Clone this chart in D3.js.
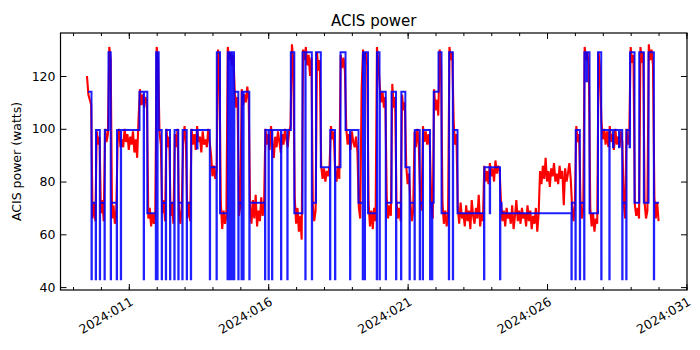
<!DOCTYPE html>
<html><head><meta charset="utf-8">
<script src="https://cdn.jsdelivr.net/npm/d3@7"></script>
<style>body{margin:0;background:#fff}svg{display:block}text{font-family:"DejaVu Sans",sans-serif;fill:#000}</style>
</head><body><svg id="c" width="700" height="350"></svg>
<script>
// ---- data ----
const titleText = "ACIS power";
const yLabelText = "ACIS power (watts)";
const majorTicks = [11, 16, 21, 26, 31];
const tickLabels = ["2024:011", "2024:016", "2024:021", "2024:026", "2024:031"];
const minorTicks = [9,10,11,12,13,14,15,16,17,18,19,20,21,22,23,24,25,26,27,28,29,30,31];
const yTicks = [40, 60, 80, 100, 120];

// measured ACIS power (red), sampled every 0.05 day from DOY 9.50
const measuredStart = 9.50, measuredStep = 0.05;
const measuredPower = [
120,113,111,109, 66,72,65, 99,94,97, 68,73,65, 100,95,98, 131,126, 66,71,64,69, 95,100,93,
96,93,100,95,98,92,97,94,99,91,96,89,104, 115,109,113,108,112,110, 66,70,63,68,64,69, 131,126,
99,94, 68,73,65, 100,93,97, 67,72,64, 98,93,100, 69,64,71, 95,101,94, 66,72,65,
100,94,98,92,101,95,97,91,99,94,96,93,100,95, 90,82,86,81,84, 130,125, 72,62,69,64,67,
131,126,129,124,128, 114,108,112, 67,71, 115,109,113,110,116,111,
70,64,73,66,75,63,69,65,74,67,71,
100,94,98,92,101,95,89,97,93,99,95,91,98,94,100,96,93,99,101, 132,126, 74,64,70,61,67,58,
130,126,131,124,128,120,127, 71,65,69, 129,122,126, 86,81,85,80,84,82,86, 101,96,99, 84,80,86,81,
128,123,127,122, 100,94,98,92,99,95,93,97,91, 70,66,115, 130,126,129,124, 72,63,69,62,70,65,
131,125, 116,110,114,108,112, 74,66,71,67, 117,108,112, 73,66,70,65, 113,107,110, 86,79,83,
72,65,69, 99,93,100,94, 74,69, 101,95,99,94,98,93, 71,66, 115,107,111,105, 130,124,
72,64,69,63,67, 131,126,129, 103,94,98,
70,64,72,66,68,63,71,65,69,62,73,67,64,70,66,75,63,68,65,
86,80,84,79,87,82,85,80,88,83,86,84,
72,65,69,63,70,66,68,64,71,62,67,73,65,69,64,70,66,68,63,71,65,69,62,67,64,70,61,68,
84,79,86,81,89,80,84,78,85,82,87,80,83,79,86,81,84,71,85,80,83,87,81,
70,65,72, 101,95,98, 73,66,70, 131,126,129,124, 70,63,68,61,66,64, 129,123,
103,96,100,94,99,93,101,95,98,92,100,94,97,93,99,95, 72,66, 100,94,98, 131,125,128,
71,67,70,66, 131,125,129, 72,66,69, 132,126,130,124, 74,66,72,65
];

// model ACIS power (blue), step changes: [DOY, watts]
const modelSteps = [
[9.537,114],[9.662,43],[9.673,72],[9.813,43],[9.824,99.5],[9.960,43],[9.971,72],[10.128,43],[10.139,99.5],
[10.272,129],[10.351,43],[10.362,72],[10.566,43],[10.577,99.5],[10.713,43],[10.724,99.5],[11.384,114],
[11.534,43],[11.545,114],[11.664,68],[11.968,43],[11.979,129],[12.022,43],[12.033,129],[12.072,99.5],
[12.180,43],[12.191,72],[12.327,43],[12.338,99.5],[12.478,43],[12.489,72],[12.632,43],[12.643,99.5],
[12.775,43],[12.786,72],[12.919,43],[12.930,99.5],[13.077,43],[13.088,72],[13.224,43],[13.235,99.5],
[13.446,92.5],[13.464,99.5],[13.905,43],[13.916,85.4],[14.146,43],[14.156,129],[14.271,68],[14.540,43],
[14.551,129],[14.619,43],[14.630,129],[14.702,43],[14.712,129],[14.773,43],[14.784,114],[14.928,43],
[14.938,72],[15.042,43],[15.053,114],[15.107,43],[15.118,114],[15.322,43],[15.333,72],[15.885,43],
[15.896,99.5],[16.011,43],[16.022,99.5],[16.136,43],[16.147,99.5],[16.459,43],[16.470,99.5],[16.685,43],
[16.696,99.5],[16.811,129],[16.936,68],[17.230,129],[17.331,43],[17.341,129],[17.564,43],[17.575,72],
[17.714,129],[17.887,85.4],[18.217,43],[18.227,99.5],[18.396,43],[18.407,85.4],[18.593,129],[18.773,99.5],
[18.934,43],[18.945,99.5],[19.239,72],[19.390,43],[19.400,129],[19.461,43],[19.472,129],[19.580,68],
[19.892,43],[19.902,129],[19.992,43],[20.003,114],[20.215,43],[20.225,72],[20.423,114],[20.584,43],
[20.595,72],[20.763,43],[20.774,114],[20.918,85.4],[21.068,43],[21.079,72],[21.248,43],[21.258,99.5],
[21.434,43],[21.445,72],[21.542,43],[21.552,99.5],[21.803,43],[21.814,72],[21.875,43],[21.886,72],
[21.936,114],[22.108,129],[22.216,68],[22.478,43],[22.489,129],[22.621,43],[22.632,99.5],[22.790,68],
[23.740,43],[23.751,85.4],[23.945,68],[23.959,85.4],[24.314,43],[24.325,72],[24.368,68],[26.875,43],
[26.886,72],[27.019,43],[27.029,99.5],[27.176,43],[27.187,72],[27.331,43],[27.341,129],[27.417,118],
[27.435,129],[27.524,68],[27.829,129],[27.944,43],[27.955,99.5],[28.235,43],[28.245,99.5],[28.367,93],
[28.382,99.5],[28.582,93],[28.597,99.5],[28.697,43],[28.708,72],[28.841,43],[28.851,99.5],[28.959,93],
[28.977,129],[29.138,72],[29.307,129],[29.472,72],[29.641,129],[29.831,43],[29.842,72],[30.017,72]
];

// ---- chart ----
const svg = d3.select("#c");
const m = {l: 60.5, r: 687, t: 33, b: 290};
const x = d3.scaleLinear().domain([8.55, 31.02]).range([m.l, m.r]);
const y = d3.scaleLinear().domain([38.9, 136.3]).range([m.b, m.t]);

svg.append("defs").append("clipPath").attr("id", "clip")
  .append("rect").attr("x", m.l).attr("y", m.t).attr("width", m.r - m.l).attr("height", m.b - m.t);

const plot = svg.append("g").attr("clip-path", "url(#clip)");

const measured = measuredPower.map((v, i) => [measuredStart + i * measuredStep, v]);
plot.append("path").datum(measured)
  .attr("fill", "none").attr("stroke", "#ff0000").attr("stroke-width", 2.1)
  .attr("stroke-linejoin", "miter")
  .attr("d", d3.line().x(d => x(d[0])).y(d => y(d[1])));

plot.append("path").datum(modelSteps)
  .attr("fill", "none").attr("stroke", "#0000ff").attr("stroke-width", 2)
  .attr("stroke-opacity", 0.88)
  .attr("d", d3.line().curve(d3.curveStepAfter).x(d => x(d[0])).y(d => y(d[1])));

// axes
function styleAxis(g) { g.select(".domain").remove(); g.selectAll("line").attr("stroke", "#000"); }

const xb = svg.append("g").attr("transform", `translate(0,${m.b})`)
  .call(d3.axisBottom(x).tickValues(majorTicks).tickFormat((d, i) => tickLabels[i]).tickSize(-6).tickPadding(0))
  .call(styleAxis);
xb.selectAll("text").attr("y", null).attr("dy", null)
  .attr("font-size", 12.5).attr("text-anchor", "end")
  .attr("dominant-baseline", "hanging")
  .attr("transform", "translate(0,6) rotate(-30)");
svg.append("g").attr("transform", `translate(0,${m.b})`)
  .call(d3.axisBottom(x).tickValues(minorTicks).tickFormat("").tickSize(-3)).call(styleAxis);
svg.append("g").attr("transform", `translate(0,${m.t})`)
  .call(d3.axisTop(x).tickValues(majorTicks).tickFormat("").tickSize(-6)).call(styleAxis);
svg.append("g").attr("transform", `translate(0,${m.t})`)
  .call(d3.axisTop(x).tickValues(minorTicks).tickFormat("").tickSize(-3)).call(styleAxis);

const yl = svg.append("g").attr("transform", `translate(${m.l},0)`)
  .call(d3.axisLeft(y).tickValues(yTicks).tickSize(-6).tickPadding(5))
  .call(styleAxis);
yl.selectAll("text").attr("font-size", 12.5);
svg.append("g").attr("transform", `translate(${m.r},0)`)
  .call(d3.axisRight(y).tickValues(yTicks).tickFormat("").tickSize(-6)).call(styleAxis);

svg.append("rect").attr("x", m.l).attr("y", m.t).attr("width", m.r - m.l).attr("height", m.b - m.t)
  .attr("fill", "none").attr("stroke", "#000").attr("stroke-width", 1.2);

svg.append("text").attr("x", (m.l + m.r) / 2).attr("y", 26).attr("text-anchor", "middle")
  .attr("font-size", 15).text(titleText);
svg.append("text").attr("transform", `translate(21,${(m.t + m.b) / 2}) rotate(-90)`)
  .attr("text-anchor", "middle").attr("font-size", 12.5).text(yLabelText);
</script></body></html>
